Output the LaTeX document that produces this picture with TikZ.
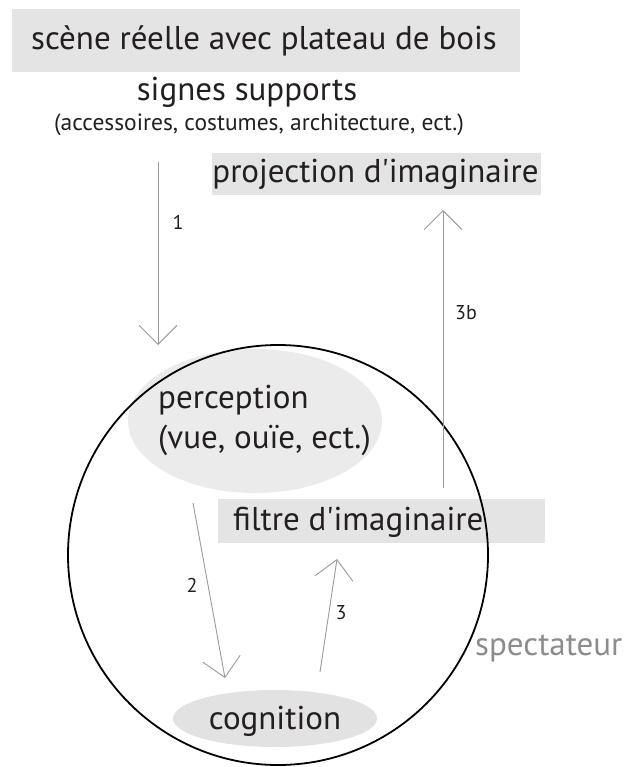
\documentclass[tikz,border=0pt]{standalone}
\usepackage{fontspec}
\setmainfont{PT Sans}
\usetikzlibrary{arrows.meta,shapes.geometric}
\definecolor{boxgray}{HTML}{E4E4E4}
\definecolor{ellgray}{HTML}{EBEBEB}
\definecolor{coggray}{HTML}{E2E2E2}
\definecolor{arrgray}{HTML}{9A9A9A}
\definecolor{spgray}{HTML}{8C8C8C}
\definecolor{txt}{HTML}{231F20}
\tikzset{
  graybox/.style={fill=boxgray, draw=none, inner sep=0pt},
  grayell/.style={ellipse, fill=ellgray, draw=none, inner sep=0pt},
  lbl/.style={text=txt, inner sep=0pt, font=\fontsize{33}{40}\selectfont},
  numlbl/.style={text=txt, inner sep=0pt, font=\fontsize{20}{22}\selectfont},
  flow/.style={draw=arrgray, line width=0.9pt, -{Straight Barb[length=19pt,width=38pt,line width=0.9pt]}},
}
\begin{document}
\begin{tikzpicture}[x=1pt,y=-1pt]
\useasboundingbox (0,0) rectangle (626,767);
% top boxes and texts
\node[graybox, minimum width=508pt, minimum height=63pt] (scene) at (266,40.5) {};
\node[lbl, anchor=base] (scenetext) at (264,49.5) {scène réelle avec plateau de bois};
\node[lbl, anchor=base] (signes) at (247,101) {signes supports};
\node[text=txt, inner sep=0pt, anchor=base, font=\fontsize{23.5}{26}\selectfont] (access) at (259,131) {(accessoires, costumes, architecture, ect.)};
\node[graybox, minimum width=329pt, minimum height=42pt] (proj) at (376.5,174) {};
\node[lbl, anchor=base] (projtext) at (375.5,183) {projection d\textquotesingle imaginaire};
% perception
\node[grayell, minimum width=254pt, minimum height=144pt] (perc) at (255,421) {};
\node[lbl, align=left, anchor=base west] (perctext) at (158,448) {perception\\(vue, ouïe, ect.)};
% filtre
\node[graybox, minimum width=327pt, minimum height=44pt] (filtrebox) at (381.5,521) {};
\node[lbl, anchor=base west] (filtre) at (233,530) {filtre d\textquotesingle imaginaire};
% cognition
\node[grayell, fill=coggray, minimum width=204pt, minimum height=57pt] (cog) at (275,718.5) {};
\node[lbl, anchor=base] (cogtext) at (275,729) {cognition};
% circle (drawn over the fills)
\node[circle, draw=black, line width=1.8pt, minimum size=420pt, inner sep=0pt] (spectcircle) at (278,555) {};
% spectateur
\node[lbl, text=spgray, anchor=base west] (spect) at (475,655) {spectateur};
% arrows
\coordinate (a1s) at (158,162);
\coordinate (a1e) at (158,345);
\draw[flow] (a1s) -- (a1e);
\node[numlbl] (n1) at (178,222) {1};
\coordinate (a2s) at (193,503);
\coordinate (a2e) at (225,678);
\draw[flow] (a2s) -- (a2e);
\node[numlbl] (n2) at (192,585) {2};
\coordinate (a3s) at (320,672);
\coordinate (a3e) at (337,559);
\draw[flow] (a3s) -- (a3e);
\node[numlbl] (n3) at (341,613) {3};
\coordinate (a3bs) at (443,488);
\coordinate (a3be) at (443,210);
\draw[flow] (a3bs) -- (a3be);
\node[numlbl] (n3b) at (466,313) {3b};
\end{tikzpicture}
\end{document}
